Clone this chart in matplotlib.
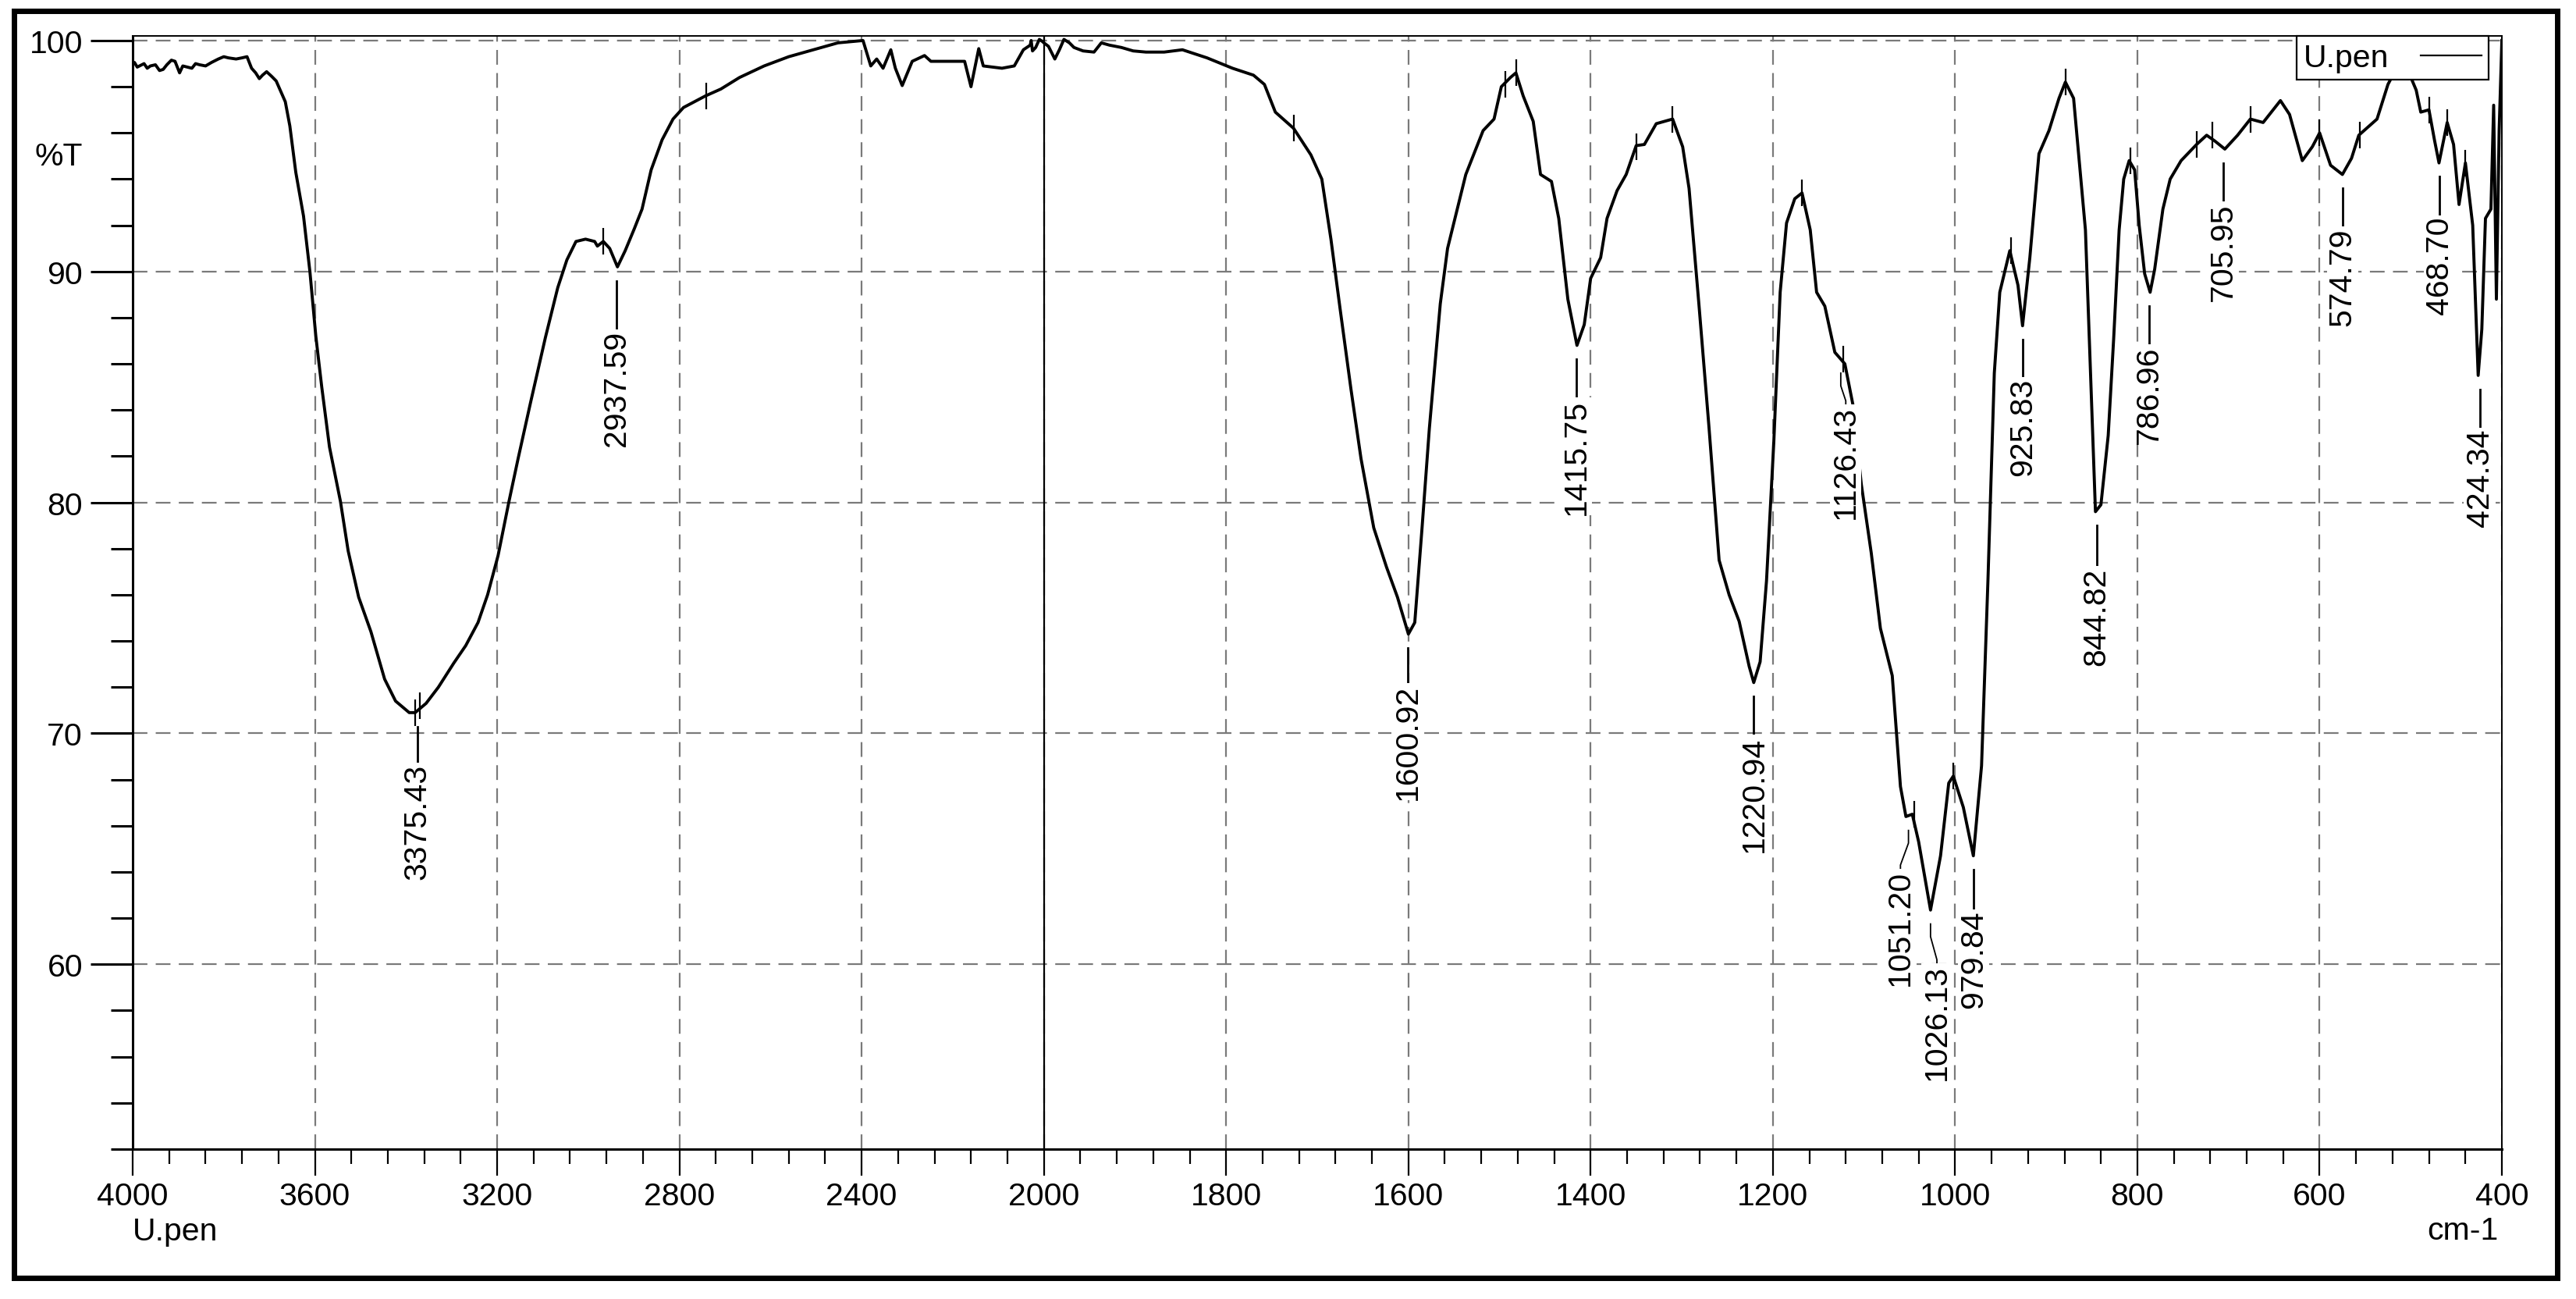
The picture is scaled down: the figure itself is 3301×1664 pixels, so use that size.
import numpy as np
import matplotlib
matplotlib.use("Agg")
import matplotlib.pyplot as plt
import matplotlib.transforms as mtransforms
from matplotlib.patches import Rectangle

plt.rcParams['font.family'] = ['Liberation Sans', 'DejaVu Sans']

# spectrum (wavenumber cm-1, %T)
wavenumber = [
    4000, 3996, 3980, 3961, 3941, 3925, 3907, 3897, 3880, 3853, 3827, 3800, 3773, 3749, 3739,
    3722, 3706, 3685, 3665, 3655, 3642, 3625, 3611, 3598, 3585, 3568, 3544, 3527, 3504, 3477,
    3447, 3423, 3393, 3380, 3356, 3329, 3295, 3269, 3242, 3221, 3198, 3174, 3154, 3127, 3094,
    3067, 3047, 3027, 3006, 2986, 2980, 2967, 2953, 2936, 2919, 2899, 2882, 2862, 2838, 2814,
    2791, 2743, 2709, 2668, 2614, 2560, 2506, 2452, 2397, 2380, 2367, 2353, 2336, 2326, 2311,
    2289, 2262, 2248, 2207, 2174, 2160, 2143, 2133, 2092, 2065, 2045, 2028, 2018, 2004,
    2000, 1988, 1978, 1967, 1945, 1937, 1915, 1888, 1868, 1848, 1821, 1793, 1770, 1758, 1746,
    1726, 1707, 1695, 1685, 1675, 1663, 1652, 1638, 1624, 1612, 1600, 1593, 1585, 1577, 1565,
    1557, 1537, 1518, 1506, 1498, 1488, 1482, 1474, 1463, 1455, 1443, 1435, 1425, 1415, 1407,
    1400, 1389, 1382, 1371, 1361, 1350, 1341, 1328, 1310, 1299, 1292, 1281, 1270, 1259, 1248,
    1237, 1226, 1221, 1214, 1207, 1199, 1192, 1185, 1176, 1168, 1159, 1152, 1143, 1132, 1121,
    1112, 1103, 1092, 1082, 1069, 1060, 1054, 1047, 1040, 1027, 1016, 1007, 1002, 991, 980,
    971, 964, 957, 951, 940, 931, 926, 918, 908, 897, 886, 879, 870, 857, 846,
    840, 832, 826, 820, 815, 809, 803, 798, 792, 786, 781, 772, 764, 752, 735,
    724, 715, 704, 690, 676, 662, 643, 633, 619, 608, 600, 588, 575, 565, 557,
    537, 525, 517, 503, 494, 489, 480, 474, 469, 460, 453, 447, 440, 432, 426,
    422, 418, 412, 409, 406, 403, 400]
transmittance = [
    99.0, 99.05, 98.95, 98.9, 98.7, 98.95, 99.1, 98.6, 98.85, 98.95, 99.05, 99.3, 99.2, 99.3, 98.8,
    98.35, 98.65, 98.25, 97.35, 96.3, 94.3, 92.4, 90.0, 87.2, 85.0, 82.4, 80.05, 77.9, 75.9, 74.4,
    72.35, 71.4, 70.9, 70.9, 71.3, 72.0, 73.05, 73.8, 74.8, 76.0, 77.7, 80.05, 81.9, 84.3, 87.15,
    89.3, 90.5, 91.3, 91.4, 91.3, 91.1, 91.3, 91.0, 90.2, 90.9, 91.85, 92.7, 94.4, 95.7, 96.6,
    97.1, 97.6, 97.9, 98.4, 98.9, 99.3, 99.6, 99.9, 100.0, 98.9, 99.2, 98.8, 99.6, 98.8, 98.05,
    99.1, 99.35, 99.1, 99.1, 99.1, 98.0, 99.65, 98.9, 98.8, 98.9, 99.6, 100.0, 99.7, 99.97,
    99.9, 99.2, 100.05, 99.7, 99.5, 99.9, 99.7, 99.5, 99.5, 99.6, 99.25, 98.8, 98.5, 98.1, 96.9,
    96.2, 95.05, 94.0, 91.4, 88.4, 84.9, 81.9, 78.9, 77.2, 75.9, 74.3, 74.8, 78.9, 83.2, 88.6,
    91.0, 94.2, 96.1, 96.6, 98.0, 98.4, 98.6, 97.6, 96.5, 94.2, 93.9, 92.3, 88.8, 86.8, 87.7,
    89.7, 90.6, 92.3, 93.5, 94.2, 95.45, 95.5, 96.4, 96.6, 95.4, 93.6, 88.5, 83.2, 77.5, 76.0,
    74.85, 72.9, 72.2, 73.1, 76.6, 82.6, 89.1, 92.1, 93.15, 93.4, 91.8, 89.1, 88.5, 86.5, 86.0,
    84.2, 80.8, 77.8, 74.55, 72.5, 67.7, 66.4, 66.5, 65.3, 62.35, 64.7, 67.85, 68.15, 66.8, 64.7,
    68.6, 76.6, 85.6, 89.1, 90.9, 89.4, 87.65, 90.6, 95.1, 96.1, 97.5, 98.2, 97.5, 91.8, 79.6,
    79.9, 82.9, 87.1, 91.8, 94.0, 94.8, 94.4, 92.0, 89.9, 89.1, 90.1, 92.7, 94.0, 94.8, 95.5,
    95.9, 95.65, 95.3, 95.9, 96.6, 96.45, 97.4, 96.8, 94.8, 95.4, 96.0, 94.6, 94.2, 94.9, 95.9,
    96.6, 98.1, 98.7, 98.7, 97.85, 96.9, 97.0, 95.7, 94.7, 96.45, 95.5, 92.9, 94.7, 92.0, 85.5,
    87.5, 92.3, 92.7, 97.2, 88.8, 96.1, 100.0]

# extra jagged points read in the noisy stretches
noise_wn = [3990, 3975, 3968, 3950, 3933, 3915, 3890, 3870, 3862, 3840, 3812, 3790, 3760,
            3745, 3730, 3715, 3695, 2030, 2025, 2010, 1995, 1983, 1972, 1957, 1928, 1902]
noise_t = [98.85, 99.0, 98.8, 98.95, 98.75, 99.15, 98.9, 98.8, 99.0, 98.9, 99.2, 99.25,
           99.25, 99.1, 98.6, 98.5, 98.45, 99.8, 99.55, 100.05, 99.75, 99.6, 99.9, 99.55,
           99.8, 99.55]

# peak-pick tick marks on the curve
pick_wn = [3380, 3369, 2968, 2741, 1726, 1494, 1482, 1350, 1310, 1168, 1123, 1045, 1002,
           939, 879, 808, 735, 718, 676, 600, 556, 480, 460, 440]
pick_t = [70.9, 71.2, 91.3, 97.6, 96.2, 98.1, 98.6, 95.4, 96.6, 93.4, 86.2, 66.5, 68.15,
          90.9, 98.2, 94.8, 95.5, 95.9, 96.6, 96.0, 95.9, 97.0, 96.45, 94.7]

# labelled peaks
peak_text = ['3375.43', '2937.59', '1600.92', '1415.75', '1220.94', '1126.43', '1051.20',
             '1026.13', '979.84', '925.83', '844.82', '786.96', '705.95', '574.79', '468.70',
             '424.34']
peak_wn = [3375.43, 2937.59, 1600.92, 1415.75, 1220.94, 1125.5, 1051.20, 1027.0, 979.84,
           925.83, 844.82, 786.96, 705.95, 574.79, 468.70, 424.34]
peak_t = [70.9, 90.2, 74.3, 86.8, 72.2, 86.2, 66.4, 62.35, 64.7, 87.65, 79.6, 89.1, 95.3,
          94.2, 94.7, 85.5]
label_wn = [3375.43, 2937.59, 1600.92, 1415.75, 1220.94, 1120.0, 1060.0, 1020.0, 979.84,
            925.83, 844.82, 786.96, 705.95, 574.79, 468.70, 424.34]
label_top = [68.7, 87.45, 72.15, 84.5, 69.9, 84.2, 64.1, 60.0, 62.35, 85.4, 77.2, 86.8,
             93.0, 91.9, 92.4, 83.2]


def forward(w):
    w = np.asarray(w, dtype=float)
    return np.where(w > 2000, 2000 + (w - 2000) / 2.0, w)


def inverse(p):
    p = np.asarray(p, dtype=float)
    return np.where(p > 2000, 2000 + (p - 2000) * 2.0, p)


spec = np.array(list(zip(wavenumber + noise_wn, transmittance + noise_t)))
spec = spec[np.argsort(-spec[:, 0])]

fig = plt.figure(figsize=(33.01, 16.65), dpi=100)
ax = fig.add_axes([170 / 3301, 1 - 1473 / 1665, 3036 / 3301, 1426 / 1665])
ax.set_xscale('function', functions=(forward, inverse))
ax.set_xlim(4000, 400)
ax.set_ylim(52, 100.2)

fs = 29.5

major_x = [4000, 3600, 3200, 2800, 2400, 2000, 1800, 1600, 1400, 1200, 1000, 800, 600, 400]
minor_x = [v for v in list(np.arange(4000, 2000, -80)) + list(np.arange(2000, 399, -40))
           if v not in major_x]
ax.set_xticks(major_x)
ax.set_xticklabels([str(v) for v in major_x])
ax.set_xticks(minor_x, minor=True)
major_y = [60, 70, 80, 90, 100]
ax.set_yticks(major_y)
ax.set_yticks([v for v in range(52, 100, 2) if v not in major_y], minor=True)

ax.tick_params(axis='x', which='major', length=24.5, width=1.6, pad=5, labelsize=fs)
ax.tick_params(axis='x', which='minor', length=13.5, width=1.6)
ax.tick_params(axis='y', which='major', length=39, width=2.2, pad=7, labelsize=fs)
ax.tick_params(axis='y', which='minor', length=20, width=2.2)

for side in ['left', 'bottom']:
    ax.spines[side].set_linewidth(2.2)
for side in ['top', 'right']:
    ax.spines[side].set_linewidth(1.4)

ax.grid(which='major', color='#7a7a7a', linestyle=(0, (8.5, 4.8)), linewidth=1.6)
ax.axvline(2000, color='black', lw=1.6, zorder=2.5)

ax.plot(spec[:, 0], spec[:, 1], color='black', lw=2.8, zorder=3, label='U.pen')
ax.plot(pick_wn, pick_t, linestyle='none', marker='|', markersize=25,
        markeredgewidth=1.6, color='black', zorder=3)

# leaders and rotated peak labels
for txt, pw, pt, lw_, lt in zip(peak_text, peak_wn, peak_t, label_wn, label_top):
    start = pt - 0.6
    end = lt - 0.1
    if abs(lw_ - pw) > 1:
        mid1 = start - 0.55
        mid2 = end + 0.3
        ax.plot([pw, pw, lw_, lw_], [start, mid1, mid2, end], color='black', lw=1.3, zorder=3)
    else:
        ax.plot([pw, pw], [start, end], color='black', lw=2.0, zorder=3)
    ax.text(lw_, lt, txt, rotation=90, ha='center', va='top', fontsize=fs, zorder=4,
            bbox=dict(facecolor='white', edgecolor='none', pad=1))

trans = mtransforms.blended_transform_factory(ax.transAxes, ax.transData)
ax.text(-0.021, 95, '%T', transform=trans, ha='right', va='center', fontsize=fs)

leg = ax.legend(loc='upper right', bbox_to_anchor=(0.9944, 1.0), borderaxespad=0,
                fancybox=False, edgecolor='black', framealpha=1, markerfirst=False,
                handlelength=1.9, handletextpad=1.0, borderpad=0.22, fontsize=fs)
leg.get_frame().set_linewidth(1.6)
for h in leg.get_lines():
    h.set_linewidth(1.6)

fig.text(170 / 3301, 1 - 1578 / 1665, 'U.pen', ha='left', va='center', fontsize=fs)
fig.text(3202 / 3301, 1 - 1577 / 1665, 'cm-1', ha='right', va='center', fontsize=fs)

fig.patches.append(Rectangle((18 / 3301, 1 - 1638 / 1665), (3277 - 18) / 3301,
                             (1638 - 15) / 1665, transform=fig.transFigure,
                             fill=False, edgecolor='black', linewidth=5))

fig.savefig('out.png', dpi=100)
